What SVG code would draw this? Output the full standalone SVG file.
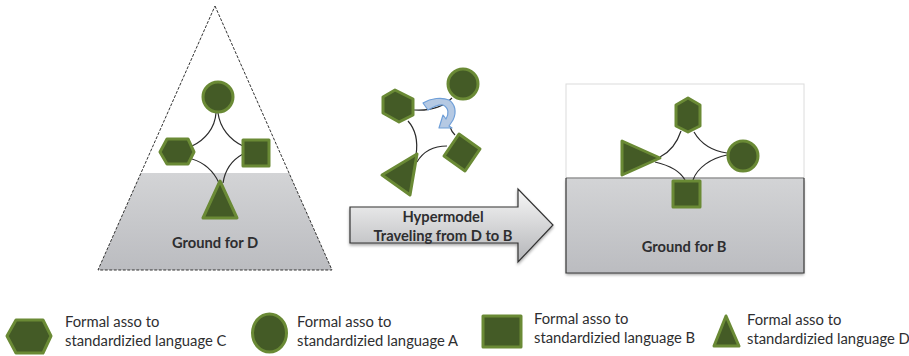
<svg xmlns="http://www.w3.org/2000/svg" width="909" height="356" viewBox="0 0 909 356">
<style>
.s{fill:#445b26;stroke:#6a8a35;stroke-width:3;stroke-linejoin:round}
.c{fill:none;stroke:#2b2b2b;stroke-width:1.2}
text{font-family:"Lato","Open Sans","Liberation Sans",sans-serif;fill:#2e2e30}
.l{font-size:14.8px}
.b{font-size:14.7px;font-weight:700;text-anchor:middle}
</style>
<defs>
<linearGradient id="g" x1="0" y1="0" x2="0" y2="1"><stop offset="0" stop-color="#d3d4d6"/><stop offset="1" stop-color="#bbbcc0"/></linearGradient>
<linearGradient id="a" x1="0" y1="0" x2="0" y2="1"><stop offset="0" stop-color="#f7f7f7"/><stop offset="1" stop-color="#b4b5b8"/></linearGradient>
<filter id="sh" x="-5%" y="-5%" width="110%" height="115%"><feGaussianBlur in="SourceAlpha" stdDeviation="1.5"/><feOffset dx="0" dy="1.5"/><feComponentTransfer><feFuncA type="linear" slope="0.35"/></feComponentTransfer><feMerge><feMergeNode/><feMergeNode in="SourceGraphic"/></feMerge></filter>
</defs>
<g id="ground-d">
<polygon points="141,173 289,173 332,270 98,270" fill="url(#g)"/>
<polygon points="215,6 332,270 98,270" fill="none" stroke="#333" stroke-width="1" stroke-dasharray="3 1.5"/>
<text class="b" x="215" y="248">Ground for D</text>
</g>
<g id="ground-b">
<rect x="566" y="84" width="238" height="94" fill="#fff" stroke="#dcdcdc" stroke-width="1"/>
<rect x="566" y="178" width="238" height="95" fill="url(#g)" filter="url(#sh)"/>
<path d="M566,178H804" fill="none" stroke="#777" stroke-width="1.2"/>
<path d="M566,178V273H804V178" fill="none" stroke="#3a3a3a" stroke-width="1.2"/>
<text class="b" x="684" y="252">Ground for B</text>
</g>
<g id="connectors">
<path class="c" d="M216,113C215,128 205,140 192,146"/>
<path class="c" d="M218,113C220,128 230,140 243,146"/>
<path class="c" d="M192,159C205,163 214,172 219,183"/>
<path class="c" d="M243,154C232,160 225,170 223,183"/>
<path class="c" d="M414,110C430,111 442,108 452,98"/>
<path class="c" d="M408,121C416,130 418,142 416,155"/>
<path class="c" d="M417,162C424,150 435,146 447,146"/>
<path class="c" d="M450,127C451,130 453,133 455,135"/>
<path class="c" d="M681,131C677,143 670,152 660,157"/>
<path class="c" d="M694,132C701,144 713,151 727,153"/>
<path class="c" d="M655,162C668,165 680,171 685,180"/>
<path class="c" d="M693,180C697,168 711,158 727,155"/>
</g>
<g id="d-circle"><circle class="s" cx="218" cy="97" r="15"/></g>
<g id="d-hexagon"><polygon class="s" points="160,152 167,139 188,139 194,152 188,164 167,164"/></g>
<g id="d-square"><rect class="s" x="243" y="140" width="26" height="26"/></g>
<g id="d-triangle"><polygon class="s" points="220,181 237,218 203,218"/></g>
<g id="m-circle"><circle class="s" cx="463" cy="84" r="15"/></g>
<g id="m-hexagon"><polygon class="s" points="395,90 413,99 413,115 399,122 383,113 383,97"/></g>
<g id="m-square"><polygon class="s" points="459,134 480,149 465,171 444,156"/></g>
<g id="m-triangle"><polygon class="s" points="417,154 410,195 382,175"/></g>
<g id="rotation-arrow"><path d="M423,103C431,98 442,97 449,100C455,104 457,112 453,120L449,126L452,128L439,128L443,115L446,119C449,114 449,108 443,105C438,104 433,107 428,110Z" fill="#b5c9e3" stroke="#6f9fd8" stroke-width="1.2" stroke-linejoin="round"/></g>
<g id="travel-arrow">
<polygon points="350,207 518,207 518,189 553,225 518,262 518,243 350,243" fill="url(#a)" stroke="#333" stroke-width="1.2" filter="url(#sh)"/>
<text class="b" x="443" y="222">Hypermodel</text>
<text class="b" x="443" y="241">Traveling from D to B</text>
</g>
<g id="b-hexagon"><polygon class="s" points="688,98 700,105 700,126 688,132 676,126 676,105"/></g>
<g id="b-triangle"><polygon class="s" points="622,141 660,158 622,175"/></g>
<g id="b-circle"><circle class="s" cx="743" cy="156" r="15"/></g>
<g id="b-square"><rect class="s" x="673" y="181" width="27" height="26"/></g>
<g id="legend-c"><polygon class="s" points="7,336 16,320 43,320 51,336 43,353 16,353"/>
<text class="l" x="65" y="327">Formal asso to</text><text class="l" x="65" y="346">standardizied language C</text></g>
<g id="legend-a"><ellipse class="s" cx="269.500" cy="333" rx="17" ry="19"/>
<text class="l" x="297" y="327">Formal asso to</text><text class="l" x="297" y="346">standardizied language A</text></g>
<g id="legend-b"><rect class="s" x="483" y="316" width="38" height="31"/>
<text class="l" x="534" y="324">Formal asso to</text><text class="l" x="534" y="343">standardizied language B</text></g>
<g id="legend-d"><polygon class="s" points="726,316 739,346 714,346"/>
<text class="l" x="747" y="325">Formal asso to</text><text class="l" x="747" y="344">standardizied language D</text></g>
</svg>
